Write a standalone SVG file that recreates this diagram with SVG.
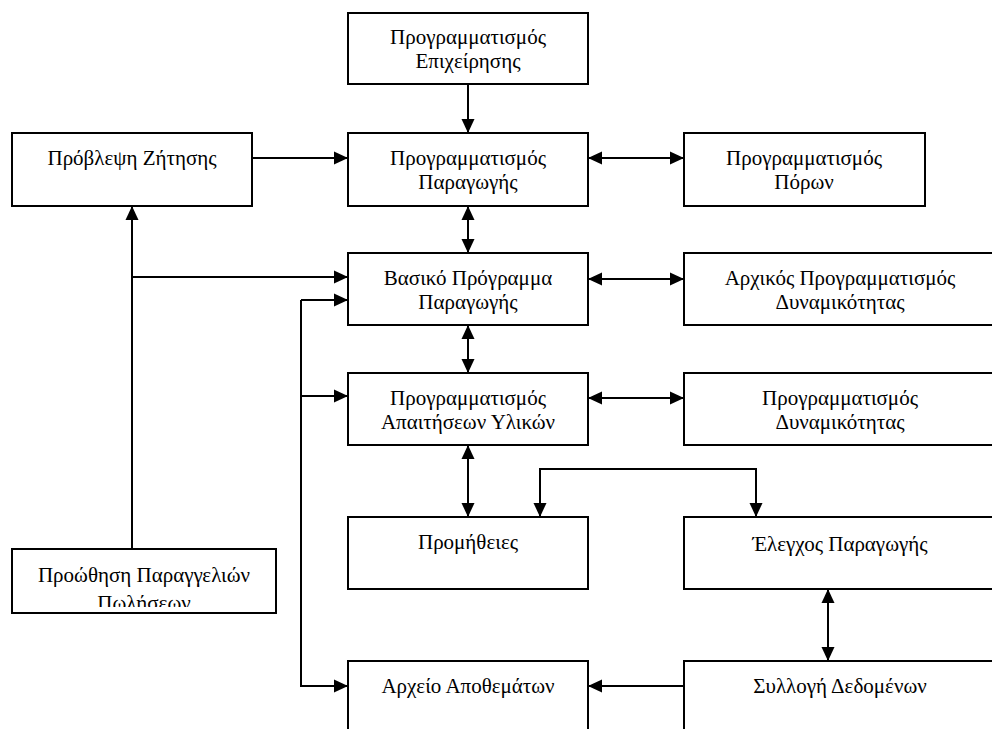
<svg xmlns="http://www.w3.org/2000/svg" width="992" height="729" viewBox="0 0 992 729">
  <style>
    .box { fill: #fff; stroke: #000; stroke-width: 2; }
    .lbl { font-family: 'Liberation Serif', 'DejaVu Serif', serif; font-size: 21px; fill: #000; text-anchor: middle; }
    .wire { fill: none; stroke: #000; stroke-width: 2; }
    .one { marker-end: url(#head); }
    .two { marker-start: url(#head); marker-end: url(#head); }
  </style>
  <defs>
    <marker id="head" viewBox="0 0 14 14" refX="14" refY="7" markerWidth="14" markerHeight="14" markerUnits="userSpaceOnUse" orient="auto-start-reverse">
      <path d="M0,0.5 L14,7 L0,13.5 Z" fill="#000"/>
    </marker>
    <clipPath id="salesClip">
      <rect x="12" y="549" width="264" height="58"/>
    </clipPath>
  </defs>
  <rect width="992" height="729" fill="#fff"/>

  <g id="connectors">
    <path class="wire one" d="M468,84 V133"/>
    <path class="wire one" d="M252,158 H348"/>
    <path class="wire two" d="M588,158 H684"/>
    <path class="wire two" d="M468,206 V253"/>
    <path class="wire one" d="M132,549 V206"/>
    <path class="wire one" d="M132,277 H348"/>
    <path class="wire two" d="M588,279 H684"/>
    <path class="wire one" d="M301,300 H348"/>
    <path class="wire one" d="M301,300 V686 H348"/>
    <path class="wire one" d="M301,396 H348"/>
    <path class="wire two" d="M468,325 V373"/>
    <path class="wire two" d="M588,398 H684"/>
    <path class="wire two" d="M468,445 V517"/>
    <path class="wire two" d="M540,517 V469 H756 V517"/>
    <path class="wire two" d="M828,589 V661"/>
    <path class="wire one" d="M684,686 H588"/>
  </g>

  <g id="business-planning">
    <rect class="box" x="348" y="13" width="240" height="71"/>
    <text class="lbl" x="468" y="44">Προγραμματισμός</text>
    <text class="lbl" x="468" y="68">Επιχείρησης</text>
  </g>
  <g id="demand-forecast">
    <rect class="box" x="12" y="133" width="240" height="73"/>
    <text class="lbl" x="132" y="165">Πρόβλεψη Ζήτησης</text>
  </g>
  <g id="production-planning">
    <rect class="box" x="348" y="133" width="240" height="73"/>
    <text class="lbl" x="468" y="165">Προγραμματισμός</text>
    <text class="lbl" x="468" y="189">Παραγωγής</text>
  </g>
  <g id="resource-planning">
    <rect class="box" x="684" y="133" width="241" height="73"/>
    <text class="lbl" x="804" y="165">Προγραμματισμός</text>
    <text class="lbl" x="804" y="189">Πόρων</text>
  </g>
  <g id="master-schedule">
    <rect class="box" x="348" y="253" width="240" height="72"/>
    <text class="lbl" x="468" y="285">Βασικό Πρόγραμμα</text>
    <text class="lbl" x="468" y="309">Παραγωγής</text>
  </g>
  <g id="rough-cut-capacity">
    <rect class="box" x="684" y="253" width="316" height="72"/>
    <text class="lbl" x="840" y="285">Αρχικός Προγραμματισμός</text>
    <text class="lbl" x="840" y="309">Δυναμικότητας</text>
  </g>
  <g id="material-requirements">
    <rect class="box" x="348" y="373" width="240" height="72"/>
    <text class="lbl" x="468" y="405">Προγραμματισμός</text>
    <text class="lbl" x="468" y="429">Απαιτήσεων Υλικών</text>
  </g>
  <g id="capacity-planning">
    <rect class="box" x="684" y="373" width="316" height="72"/>
    <text class="lbl" x="840" y="405">Προγραμματισμός</text>
    <text class="lbl" x="840" y="429">Δυναμικότητας</text>
  </g>
  <g id="purchasing">
    <rect class="box" x="348" y="517" width="240" height="72"/>
    <text class="lbl" x="468" y="549">Προμήθειες</text>
  </g>
  <g id="production-control">
    <rect class="box" x="684" y="517" width="316" height="72"/>
    <text class="lbl" x="840" y="551">Έλεγχος Παραγωγής</text>
  </g>
  <g id="sales-orders">
    <rect class="box" x="12" y="549" width="264" height="64"/>
    <g clip-path="url(#salesClip)">
      <text class="lbl" x="144" y="582">Προώθηση Παραγγελιών</text>
      <text class="lbl" x="144" y="610">Πωλήσεων</text>
    </g>
  </g>
  <g id="inventory-file">
    <rect class="box" x="348" y="661" width="240" height="80"/>
    <text class="lbl" x="468" y="693">Αρχείο Αποθεμάτων</text>
  </g>
  <g id="data-collection">
    <rect class="box" x="684" y="661" width="316" height="80"/>
    <text class="lbl" x="840" y="693">Συλλογή Δεδομένων</text>
  </g>
</svg>
